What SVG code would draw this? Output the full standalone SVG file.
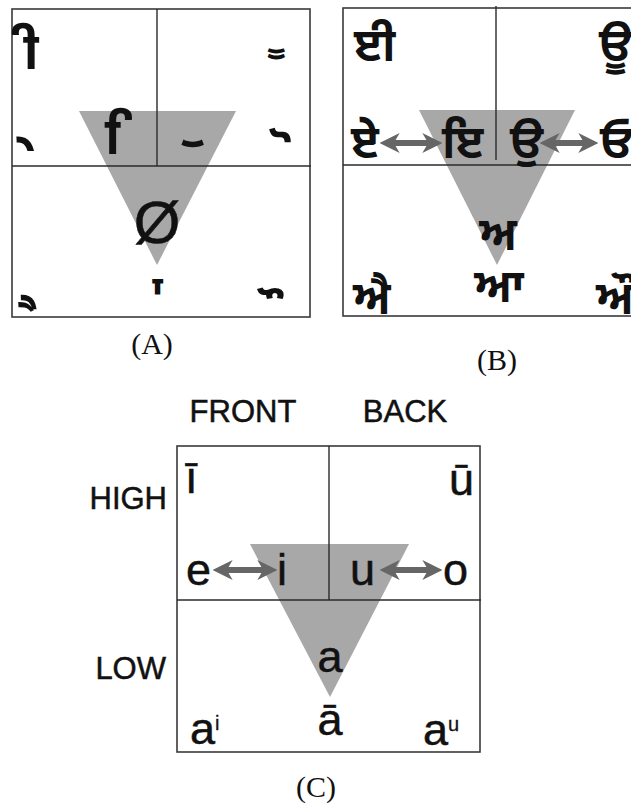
<svg xmlns="http://www.w3.org/2000/svg" width="631" height="803" viewBox="0 0 631 803">
<defs>
<style>
.box{fill:none;stroke:#3a3a3a;stroke-width:1.6}
.div{stroke:#2a2a2a;stroke-width:1.4}
.tri{fill:#a8a8a8}
.arr{stroke:#666;stroke-width:6;fill:none;marker-start:url(#ah);marker-end:url(#ah)}
.gur{font-family:"Noto Sans Gurmukhi","Lohit Gurmukhi","Raavi","Noto Sans",sans-serif;fill:#111;font-weight:bold}
.lat{font-family:"Liberation Sans",Arial,sans-serif;fill:#111;stroke:#111;stroke-width:0.5}
.cap{font-family:"Liberation Serif","Times New Roman",serif;fill:#111;font-size:30px;text-anchor:middle}
</style>
<marker id="ah" viewBox="0 0 12 12" refX="7" refY="6" markerWidth="20" markerHeight="20" markerUnits="userSpaceOnUse" orient="auto-start-reverse">
<path d="M0,0 L12,6 L0,12 L3.5,6 z" fill="#666"/>
</marker>
</defs>
<rect width="631" height="803" fill="#fff"/>

<g id="panelA">
<polygon class="tri" points="79,111 236,111 157,265"/>
<rect class="box" x="12" y="9" width="298" height="308"/>
<line class="div" x1="157" y1="9" x2="157" y2="166"/>
<line class="div" x1="12" y1="166" x2="311" y2="166"/>
<g class="gur" font-size="52">
<text x="10" y="69">&#160;ੀ</text>
<text x="278" y="47" font-size="40">&#160;ੂ</text>
<text x="25" y="182">&#160;ੇ</text>
<text x="105" y="154">&#160;ਿ</text>
<text x="195" y="137">&#160;ੁ</text>
<text x="282" y="174">&#160;ੋ</text>
<text x="27" y="341">&#160;ੈ</text>
<text x="142" y="304" font-size="40">&#160;ਾ</text>
<text x="269" y="334">&#160;ੌ</text>
</g>
<text class="lat" x="157" y="243" font-size="60" text-anchor="middle" stroke-width="0">Ø</text>
<text class="cap" x="152" y="354">(A)</text>
</g>

<g id="panelB">
<polygon class="tri" points="419,110 575,110 497,265"/>
<rect class="box" x="343" y="8" width="300" height="308"/>
<line class="div" x1="496" y1="6" x2="496" y2="160"/>
<line class="div" x1="343" y1="165" x2="631" y2="165"/>
<g class="gur" font-size="46">
<text x="354" y="61">ਈ</text>
<text x="599" y="61">ਊ</text>
<text x="351" y="158">ਏ</text>
<text x="442" y="158">ਇ</text>
<text x="510" y="158">ਉ</text>
<text x="600" y="158">ਓ</text>
<text x="498" y="250" text-anchor="middle">ਅ</text>
<text x="499" y="302" text-anchor="middle">ਆ</text>
<text x="353" y="314">ਐ</text>
<text x="596" y="314">ਔ</text>
</g>
<text class="cap" x="497" y="370">(B)</text>
</g>

<g id="panelC">
<polygon class="tri" points="250,544 409,544 330,697"/>
<rect class="box" x="177" y="446" width="303" height="306"/>
<line class="div" x1="329" y1="446" x2="329" y2="600"/>
<line class="div" x1="177" y1="600" x2="481" y2="600"/>
<g class="lat" font-size="31">
<text x="243" y="422" text-anchor="middle">FRONT</text>
<text x="405" y="422" text-anchor="middle">BACK</text>
<text x="167" y="509" text-anchor="end">HIGH</text>
<text x="166" y="679" text-anchor="end">LOW</text>
</g>
<g class="lat" font-size="45">
<text x="185" y="493">ī</text>
<text x="474" y="495" text-anchor="end">ū</text>
<text x="186" y="585">e</text>
<text x="277" y="585">i</text>
<text x="350" y="585">u</text>
<text x="443" y="585">o</text>
<text x="330" y="672" text-anchor="middle">a</text>
<text x="330" y="735" text-anchor="middle">ā</text>
<text x="190" y="744">a<tspan font-size="20" dy="-14" stroke-width="0.3">i</tspan></text>
<text x="423" y="745">a<tspan font-size="20" dy="-14" stroke-width="0.3">u</tspan></text>
</g>
<text class="cap" x="316" y="797">(C)</text>
</g>

<g id="connectors">
<line class="arr" x1="388" y1="143" x2="434" y2="143"/>
<line class="arr" x1="548" y1="143" x2="590" y2="143"/>
<line class="arr" x1="221" y1="570" x2="269" y2="570"/>
<line class="arr" x1="388" y1="570" x2="434" y2="570"/>
</g>
</svg>
